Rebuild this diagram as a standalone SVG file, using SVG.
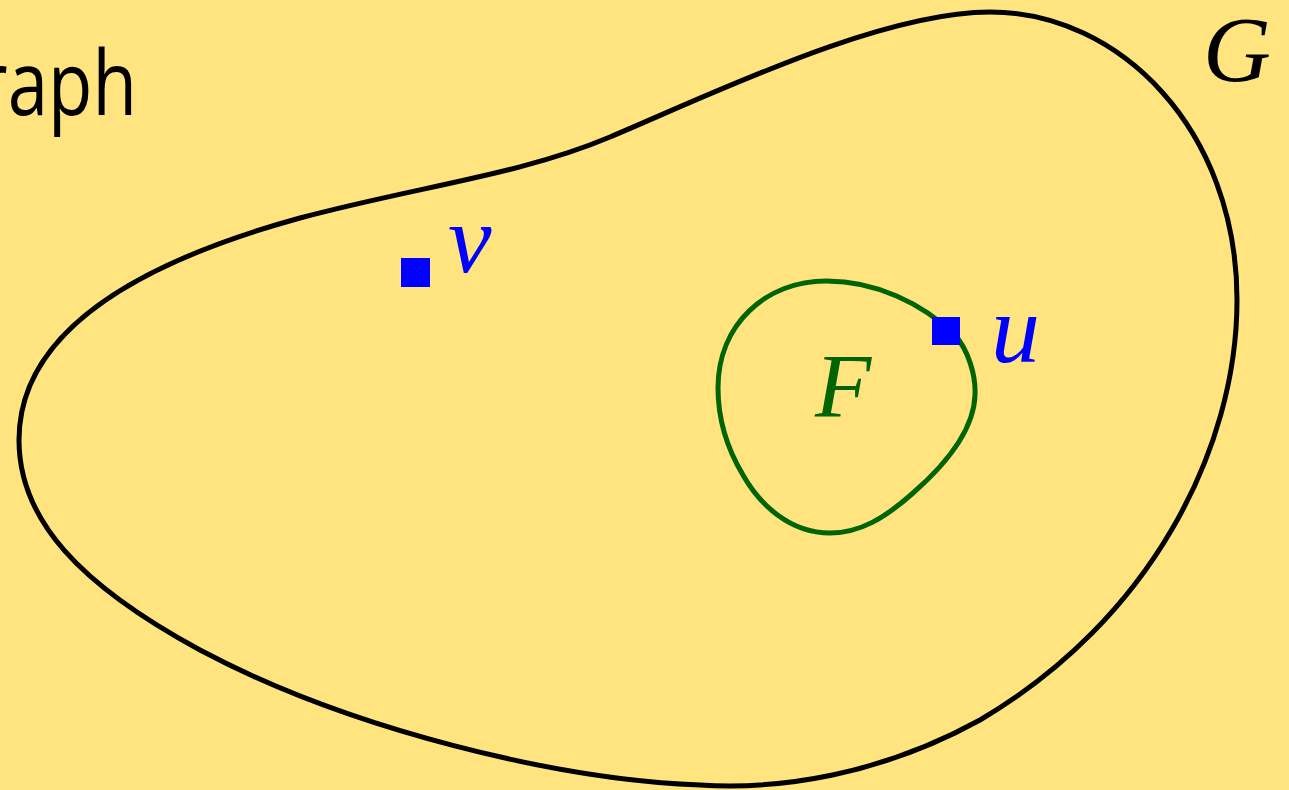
<svg xmlns="http://www.w3.org/2000/svg" width="1289" height="790" viewBox="0 0 1289 790">
<style>
.math{font-family:"Liberation Serif","DejaVu Serif",serif;font-style:italic}
.sq{fill:#0000ff}
</style>
<rect x="0" y="0" width="1289" height="790" fill="#ffe480"/>
<text x="-22" y="115" font-family="'Open Sans',Lato,sans-serif" font-size="90" fill="#000" textLength="159" lengthAdjust="spacingAndGlyphs">raph</text>
<g id="G">
<path d="M 19,440 C 19,330 140,262 300,218 C 420,186 520,175 610,137 C 710,95 880,12 990,12 C 1120,12 1237,130 1237,300 C 1237,450 1150,620 980,720 C 880,775 780,790 700,785 C 560,780 350,730 200,650 C 80,585 19,520 19,440 Z" fill="none" stroke="#000" stroke-width="5"/>
<text class="math" x="1203" y="81" font-size="94" fill="#000">G</text>
</g>
<g id="F">
<path d="M 718,388 C 718,325 765,281 827,281 C 875,281 922,303 955,335 C 968,350 976,375 975,395 C 974,430 945,465 913,493 C 885,518 860,533 830,533 C 790,533 760,505 743,475 C 728,450 718,420 718,388 Z" fill="none" stroke="#006400" stroke-width="5"/>
<text class="math" x="815" y="417" font-size="92" fill="#006400">F</text>
</g>
<g id="v">
<rect class="sq" x="401" y="258" width="29" height="29"/>
<text class="math" x="448" y="272" font-size="98" fill="#0000ff">v</text>
</g>
<g id="u">
<rect class="sq" x="932" y="317" width="28" height="28"/>
<text class="math" x="991" y="362" font-size="98" fill="#0000ff">u</text>
</g>
</svg>
